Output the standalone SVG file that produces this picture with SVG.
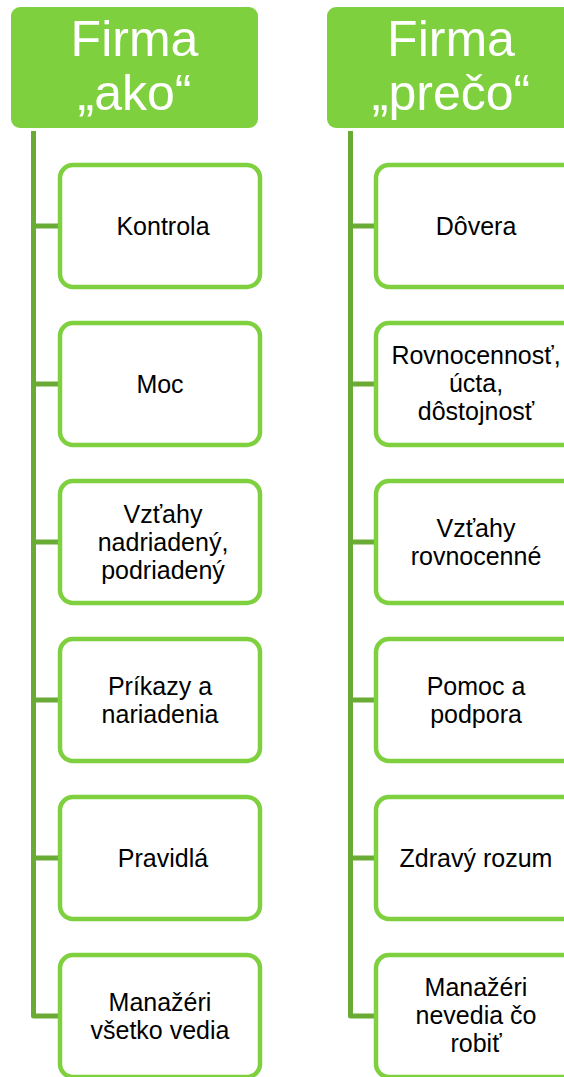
<svg xmlns="http://www.w3.org/2000/svg" width="564" height="1077" viewBox="0 0 564 1077">
<style>
.hdr{fill:#7ED03F}
.ht{font-family:"Liberation Sans",Arial,sans-serif;font-size:50px;fill:#fff;text-anchor:middle}
.box{fill:#fff;stroke:#7ED03F;stroke-width:4.5}
.bt{font-family:"Liberation Sans",Arial,sans-serif;font-size:25px;fill:#000;text-anchor:middle}
.con{fill:none;stroke:#6AAB35;stroke-width:5;stroke-linejoin:round}
</style>
<rect width="564" height="1077" fill="#fff"/>
<g id="connectors">
<path class="con" d="M33.5,131 V1016 H60"/>
<path class="con" d="M33.5,226 H60 M33.5,384 H60 M33.5,542 H60 M33.5,700 H60 M33.5,858 H60"/>
<path class="con" d="M350.5,131 V1016 H376"/>
<path class="con" d="M350.5,226 H376 M350.5,384 H376 M350.5,542 H376 M350.5,700 H376 M350.5,858 H376"/>
</g>
<g id="header-ako">
<rect class="hdr" x="11" y="7" width="247" height="121" rx="9"/>
<text class="ht" x="134.5" y="56">Firma</text>
<text class="ht" x="134.5" y="110">„ako“</text>
</g>
<g id="header-preco">
<rect class="hdr" x="327" y="7" width="247" height="121" rx="9"/>
<text class="ht" x="451" y="56">Firma</text>
<text class="ht" x="451" y="110">„prečo“</text>
</g>
<g id="kontrola"><rect class="box" x="60" y="165" width="200" height="122" rx="13"/><text class="bt" x="163" y="235">Kontrola</text></g>
<g id="moc"><rect class="box" x="60" y="323" width="200" height="122" rx="13"/><text class="bt" x="160" y="393">Moc</text></g>
<g id="vztahy-nadriadeny"><rect class="box" x="60" y="481" width="200" height="122" rx="13"/><text class="bt" x="163" y="523">Vzťahy</text><text class="bt" x="163" y="551">nadriadený,</text><text class="bt" x="163" y="579">podriadený</text></g>
<g id="prikazy"><rect class="box" x="60" y="639" width="200" height="122" rx="13"/><text class="bt" x="160" y="695">Príkazy a</text><text class="bt" x="160" y="723">nariadenia</text></g>
<g id="pravidla"><rect class="box" x="60" y="797" width="200" height="122" rx="13"/><text class="bt" x="163" y="867">Pravidlá</text></g>
<g id="manazeri-vsetko"><rect class="box" x="60" y="955" width="200" height="122" rx="13"/><text class="bt" x="160" y="1011">Manažéri</text><text class="bt" x="160" y="1039">všetko vedia</text></g>
<g id="dovera"><rect class="box" x="376" y="165" width="200" height="122" rx="13"/><text class="bt" x="476" y="235">Dôvera</text></g>
<g id="rovnocennost"><rect class="box" x="376" y="323" width="200" height="122" rx="13"/><text class="bt" x="476" y="364">Rovnocennosť,</text><text class="bt" x="476" y="392">úcta,</text><text class="bt" x="476" y="420">dôstojnosť</text></g>
<g id="vztahy-rovnocenne"><rect class="box" x="376" y="481" width="200" height="122" rx="13"/><text class="bt" x="476" y="537">Vzťahy</text><text class="bt" x="476" y="565">rovnocenné</text></g>
<g id="pomoc"><rect class="box" x="376" y="639" width="200" height="122" rx="13"/><text class="bt" x="476" y="695">Pomoc a</text><text class="bt" x="476" y="723">podpora</text></g>
<g id="zdravy-rozum"><rect class="box" x="376" y="797" width="200" height="122" rx="13"/><text class="bt" x="476" y="867">Zdravý rozum</text></g>
<g id="manazeri-nevedia"><rect class="box" x="376" y="955" width="200" height="122" rx="13"/><text class="bt" x="476" y="996">Manažéri</text><text class="bt" x="476" y="1024">nevedia čo</text><text class="bt" x="476" y="1052">robiť</text></g>
</svg>
